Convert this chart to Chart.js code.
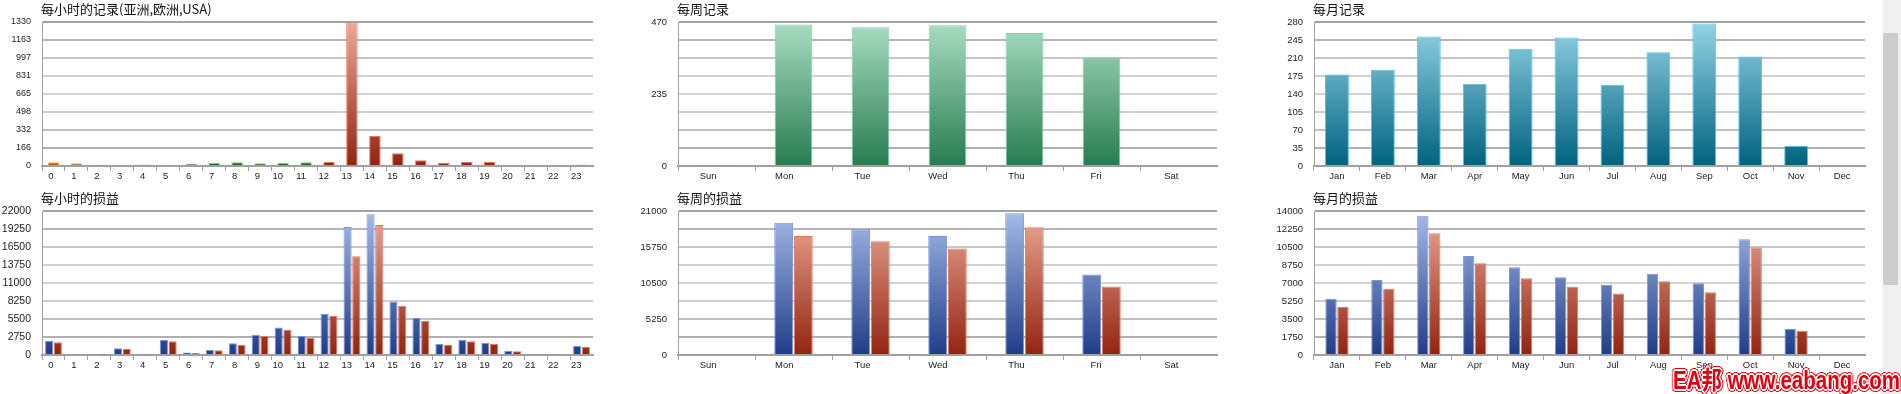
<!DOCTYPE html>
<html>
<head>
<meta charset="utf-8">
<script src="https://cdn.jsdelivr.net/npm/chart.js@4.4.0/dist/chart.umd.min.js"></script>
<style>
  html, body { margin: 0; padding: 0; background: #fff; width: 1901px; height: 394px; overflow: hidden; }
  canvas { position: absolute; }
  #track { position: absolute; left: 1883px; top: 0; width: 18px; height: 394px; background: #f0f0f0; }
  #thumb { position: absolute; left: 1883px; top: 33px; width: 15px; height: 252px; background: #cdcdcd; }
  #mark {
    position: absolute; left: 1673px; top: 360px; line-height: 1; white-space: nowrap;
    transform: scaleX(0.82); transform-origin: 0 0;
    font: bold 25px 'Liberation Sans', 'Noto Sans CJK SC', sans-serif; color: #e3000f;
    text-shadow: 1px 1px 0 #fff, -1px -1px 0 #fff, 1px -1px 0 #fff, -1px 1px 0 #fff,
      2px 0 0 #fff, -2px 0 0 #fff, 0 2px 0 #fff, 0 -2px 0 #fff,
      3px 0 0 #e3000f, -3px 0 0 #e3000f, 0 3px 0 #e3000f, 0 -3px 0 #e3000f,
      2px 2px 0 #e3000f, -2px -2px 0 #e3000f, 2px -2px 0 #e3000f, -2px 2px 0 #e3000f;
  }
</style>
</head>
<body>
<canvas id="hourRec" width="610" height="190" style="left:0;top:0"></canvas>
<canvas id="hourPL" width="610" height="190" style="left:0;top:189px"></canvas>
<canvas id="dayRec" width="600" height="190" style="left:630px;top:0"></canvas>
<canvas id="dayPL" width="600" height="190" style="left:630px;top:189px"></canvas>
<canvas id="monRec" width="610" height="190" style="left:1270px;top:0"></canvas>
<canvas id="monPL" width="610" height="190" style="left:1270px;top:189px"></canvas>
<div id="track"></div><div id="thumb"></div>
<div id="mark">EA邦 www.eabang.com</div>
<script>
// ---- data ----
const hours = ['0','1','2','3','4','5','6','7','8','9','10','11','12','13','14','15','16','17','18','19','20','21','22','23'];
const hourRegion = ['asia','asia','asia','asia','asia','eu','eu','eu','eu','eu','eu','eu','us','us','us','us','us','us','us','us','us','asia','asia','asia'];
const hourRecords = [35, 25, 12, 9, 15, 12, 18, 28, 34, 25, 28, 34, 37, 1325, 277, 117, 52, 31, 40, 37, 9, 0, 0, 15];
const hourGross = [2180, 0, 150, 1020, 200, 2290, 400, 760, 1780, 3100, 4220, 2900, 6250, 19570, 21500, 8190, 5640, 1680, 2290, 1830, 660, 0, 0, 1370];
const hourNet = [1935, 0, 80, 915, 180, 2085, 320, 710, 1580, 2900, 3810, 2640, 5950, 15100, 19870, 7520, 5185, 1575, 2090, 1680, 560, 0, 0, 1220];

const days = ['Sun','Mon','Tue','Wed','Thu','Fri','Sat'];
const dayRecords = [4, 462, 453, 459, 434, 355, 0];
const dayGross = [0, 19300, 18330, 17360, 20660, 11740, 0];
const dayNet = [0, 17360, 16590, 15520, 18620, 9990, 0];

const months = ['Jan','Feb','Mar','Apr','May','Jun','Jul','Aug','Sep','Oct','Nov','Dec'];
const monthRecords = [178, 187, 252, 160, 228, 250, 158, 221, 277, 213, 39, 0];
const monthGross = [5460, 7300, 13550, 9630, 8540, 7570, 6820, 7890, 6980, 11250, 2520, 0];
const monthNet = [4690, 6430, 11830, 8920, 7470, 6630, 5980, 7180, 6110, 10440, 2360, 0];

// y ticks (gridlines) and the labels shown on them
const hourRecTicks = [0, 166.25, 332.5, 498.75, 665, 831.25, 997.5, 1163.75, 1330];
const hourRecLabels = ['0','166','332','498','665','831','997','1163','1330'];
const hourPLTicks = [0, 2750, 5500, 8250, 11000, 13750, 16500, 19250, 22000];
const hourPLLabels = ['0','2750','5500','8250','11000','13750','16500','19250','22000'];
const dayRecTicks = [0, 58.75, 117.5, 176.25, 235, 293.75, 352.5, 411.25, 470];
const dayRecLabels = ['0','','','','235','','','','470'];
const dayPLTicks = [0, 2625, 5250, 7875, 10500, 13125, 15750, 18375, 21000];
const dayPLLabels = ['0','','5250','','10500','','15750','','21000'];
const monRecTicks = [0, 35, 70, 105, 140, 175, 210, 245, 280];
const monRecLabels = ['0','35','70','105','140','175','210','245','280'];
const monPLTicks = [0, 1750, 3500, 5250, 7000, 8750, 10500, 12250, 14000];
const monPLLabels = ['0','1750','3500','5250','7000','8750','10500','12250','14000'];

// ---- styles ----
function hasFont(f) {
  const c = document.createElement('canvas').getContext('2d');
  const s = 'WWWmmmlli1034';
  c.font = '40px monospace';
  const a = c.measureText(s).width;
  c.font = '40px "' + f + '", monospace';
  return c.measureText(s).width !== a;
}
const haveNarrow = hasFont('Liberation Sans Narrow');
const narrow = haveNarrow ? "'Liberation Sans Narrow', sans-serif" : "'Liberation Sans', sans-serif";
const nk = haveNarrow ? 1 : 0.86;   // shrink a little when the narrow face is missing
const arial = "'Liberation Sans', sans-serif";
const cjk = "'Noto Sans CJK SC', sans-serif";
const gridCols = ['#a0a0a0','#b0b0b0','#c0c0c0','#cdcdcd','#d4d4d4','#d1d1d1','#c6c6c6','#b5b5b5','#a2a2a2'];

const palette = {
  asia: { top: '#fde2b4', bottom: '#b0600a', border: '#f6b060' },
  eu:   { top: '#b6e8b6', bottom: '#156a18', border: '#80cc80' },
  us:   { top: '#eca998', bottom: '#922410', border: '#e5775f' },
  blue: { top: '#a6bbe9', bottom: '#1f3d88', border: '#7594dc' },
  red:  { top: '#eca998', bottom: '#922410', border: '#e5775f' },
  week: { top: '#a9ddc3', bottom: '#277c50', border: '#80d0a8' },
  teal: { top: '#94d4e7', bottom: '#00627f', border: '#5cbcdc' }
};

Chart.defaults.color = '#222';

function fill(p) {
  return function (c) {
    const a = c.chart.chartArea;
    if (!a) return p.bottom;
    const g = c.chart.ctx.createLinearGradient(0, a.top, 0, a.bottom);
    g.addColorStop(0, p.top);
    g.addColorStop(1, p.bottom);
    return g;
  };
}

const cornerTitle = {
  id: 'cornerTitle',
  afterDraw(chart, args, opts) {
    const ctx = chart.ctx;
    ctx.save();
    ctx.font = '13px ' + cjk;
    ctx.fillStyle = '#111';
    ctx.textBaseline = 'middle';
    ctx.fillText(opts.text, chart.chartArea.left - 1, 9);
    ctx.restore();
  }
};

function makeChart(id, o) {
  new Chart(document.getElementById(id), {
    type: 'bar',
    data: { labels: o.labels, datasets: o.datasets },
    plugins: [cornerTitle],
    options: {
      responsive: false,
      animation: false,
      events: [],
      devicePixelRatio: 1,
      layout: { padding: { top: 22, right: o.right, left: 0, bottom: 0 } },
      plugins: {
        legend: { display: false },
        tooltip: { enabled: false },
        cornerTitle: { text: o.title }
      },
      scales: {
        x: {
          afterFit: s => { s.height = 24; },
          border: { color: '#a0a0a0', width: 2 },
          grid: {
            drawOnChartArea: false, tickLength: 5, lineWidth: 1,
            color: c => c.type === 'tick' ? '#a0a0a0' : 'rgba(0,0,0,0)'
          },
          ticks: { font: { family: narrow, size: 11 * nk }, padding: 0, align: o.xAlign, maxRotation: 0, autoSkip: false }
        },
        y: {
          min: 0, max: o.ticks[o.ticks.length - 1],
          afterFit: s => { s.width = o.axisW; },
          afterBuildTicks: s => { s.ticks = o.ticks.map(v => ({ value: v })); },
          border: { color: '#a0a0a0', width: 1 },
          grid: { drawTicks: false, color: c => gridCols[c.index] || '#a0a0a0', lineWidth: 2 },
          ticks: { font: o.yFont, padding: 11, callback: (v, i) => o.tickLabels[i] }
        }
      }
    }
  });
}

function single(data, colours, bp) {
  return [{
    data: data,
    backgroundColor: c => fill(colours(c.dataIndex))(c),
    borderColor: c => colours(c.dataIndex).border,
    borderWidth: 1,
    barPercentage: bp,
    categoryPercentage: 1
  }];
}

function pair(a, b, cp, bp) {
  return [a, b].map((d, k) => {
    const p = k === 0 ? palette.blue : palette.red;
    return { data: d, backgroundColor: fill(p), borderColor: p.border, borderWidth: 1, barPercentage: bp, categoryPercentage: cp };
  });
}

makeChart('hourRec', {
  labels: hours, title: '每小时的记录(亚洲,欧洲,USA)',
  datasets: single(hourRecords, i => palette[hourRegion[i]], 0.5),
  ticks: hourRecTicks, tickLabels: hourRecLabels, axisW: 42, right: 17, xAlign: 'end',
  yFont: { family: narrow, size: 10.5 * nk }
});
makeChart('hourPL', {
  labels: hours, title: '每小时的损益',
  datasets: pair(hourGross, hourNet, 0.76, 0.93),
  ticks: hourPLTicks, tickLabels: hourPLLabels, axisW: 42, right: 17, xAlign: 'end',
  yFont: { family: arial, size: 10.5 }
});
makeChart('dayRec', {
  labels: days, title: '每周记录',
  datasets: single(dayRecords, () => palette.week, 0.49),
  ticks: dayRecTicks, tickLabels: dayRecLabels, axisW: 48, right: 13, xAlign: 'end',
  yFont: { family: arial, size: 9.5 }
});
makeChart('dayPL', {
  labels: days, title: '每周的损益',
  datasets: pair(dayGross, dayNet, 0.51, 0.96),
  ticks: dayPLTicks, tickLabels: dayPLLabels, axisW: 48, right: 13, xAlign: 'end',
  yFont: { family: arial, size: 9.5 }
});
makeChart('monRec', {
  labels: months, title: '每月记录',
  datasets: single(monthRecords, () => palette.teal, 0.52),
  ticks: monRecTicks, tickLabels: monRecLabels, axisW: 44, right: 15, xAlign: 'center',
  yFont: { family: arial, size: 9.5 }
});
makeChart('monPL', {
  labels: months, title: '每月的损益',
  datasets: pair(monthGross, monthNet, 0.52, 0.95),
  ticks: monPLTicks, tickLabels: monPLLabels, axisW: 44, right: 15, xAlign: 'center',
  yFont: { family: arial, size: 9.5 }
});
</script>
</body>
</html>
